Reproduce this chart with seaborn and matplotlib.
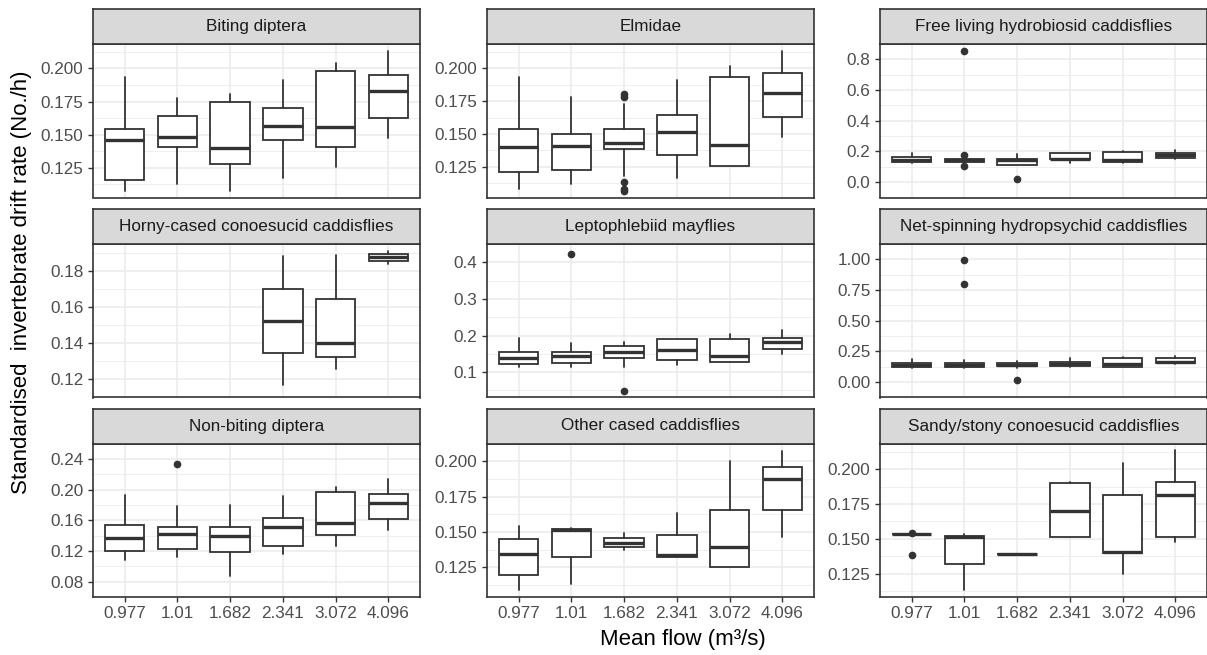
import numpy as np
import pandas as pd
import matplotlib
matplotlib.use("Agg")
import matplotlib.pyplot as plt
import seaborn as sns

# ---------------- data ----------------
FLOWS = ["0.977", "1.01", "1.682", "2.341", "3.072", "4.096"]
TAXA = [
    "Biting diptera",
    "Elmidae",
    "Free living hydrobiosid caddisflies",
    "Horny-cased conoesucid caddisflies",
    "Leptophlebiid mayflies",
    "Net-spinning hydropsychid caddisflies",
    "Non-biting diptera",
    "Other cased caddisflies",
    "Sandy/stony conoesucid caddisflies",
]
N = None
WHISKER_LOW = [
    [0.1078, 0.1129, 0.1078, 0.1172, 0.1256, 0.1477],
    [0.1082, 0.1117, 0.1181, 0.1168, 0.1258, 0.1474],
    [0.122, 0.126, 0.112, 0.128, 0.128, 0.150],
    [N, N, N, 0.1169, 0.1258, 0.1843],
    [0.113, 0.115, 0.113, 0.120, 0.127, 0.150],
    [0.115, 0.115, 0.115, 0.120, 0.122, 0.148],
    [0.1085, 0.112, 0.0874, 0.1163, 0.1261, 0.1473],
    [0.109, 0.1136, 0.1376, 0.1326, 0.125, 0.1467],
    [0.1537, 0.1134, 0.1395, 0.1511, 0.1252, 0.148],
]
Q1 = [
    [0.1159, 0.1405, 0.1276, 0.1461, 0.1405, 0.1629],
    [0.1212, 0.1230, 0.1383, 0.1342, 0.1258, 0.1630],
    [0.134, 0.134, 0.114, 0.148, 0.134, 0.156],
    [N, N, N, 0.1346, 0.1326, 0.1856],
    [0.122, 0.124, 0.139, 0.133, 0.127, 0.163],
    [0.122, 0.122, 0.134, 0.129, 0.122, 0.153],
    [0.1205, 0.123, 0.118, 0.1261, 0.141, 0.1617],
    [0.1195, 0.1321, 0.1393, 0.1326, 0.125, 0.1652],
    [0.1537, 0.132, 0.1395, 0.1511, 0.1402, 0.1511],
]
MEDIAN = [
    [0.1456, 0.1484, 0.1400, 0.1566, 0.1558, 0.1830],
    [0.1398, 0.1406, 0.1429, 0.1515, 0.1413, 0.1811],
    [0.146, 0.142, 0.142, 0.150, 0.142, 0.176],
    [N, N, N, 0.1527, 0.1402, 0.1878],
    [0.140, 0.144, 0.154, 0.160, 0.144, 0.182],
    [0.141, 0.143, 0.143, 0.146, 0.146, 0.162],
    [0.1374, 0.1417, 0.1395, 0.1508, 0.1565, 0.1822],
    [0.1348, 0.1514, 0.1419, 0.1338, 0.1395, 0.1876],
    [0.1537, 0.1516, 0.1395, 0.1702, 0.1407, 0.1814],
]
Q3 = [
    [0.1540, 0.1639, 0.1746, 0.1705, 0.1977, 0.1947],
    [0.1538, 0.1500, 0.1536, 0.1645, 0.1934, 0.1967],
    [0.162, 0.150, 0.148, 0.188, 0.196, 0.188],
    [N, N, N, 0.1704, 0.1645, 0.1898],
    [0.155, 0.154, 0.172, 0.190, 0.190, 0.194],
    [0.153, 0.153, 0.153, 0.162, 0.195, 0.195],
    [0.1533, 0.1512, 0.1512, 0.1625, 0.1963, 0.1942],
    [0.1448, 0.1521, 0.1460, 0.1476, 0.1655, 0.1962],
    [0.1537, 0.1518, 0.1395, 0.1898, 0.1814, 0.1908],
]
WHISKER_HIGH = [
    [0.1936, 0.1776, 0.1807, 0.1911, 0.2038, 0.2132],
    [0.1936, 0.1783, 0.1732, 0.1913, 0.2020, 0.2133],
    [0.188, 0.156, 0.186, 0.190, 0.204, 0.210],
    [N, N, N, 0.1883, 0.1890, 0.1914],
    [0.194, 0.179, 0.181, 0.191, 0.203, 0.214],
    [0.192, 0.178, 0.176, 0.195, 0.204, 0.216],
    [0.1935, 0.178, 0.1804, 0.1914, 0.2037, 0.2136],
    [0.1543, 0.1529, 0.1493, 0.1633, 0.2002, 0.2074],
    [0.1537, 0.1533, 0.1395, 0.1908, 0.2046, 0.2133],
]
OUTLIERS = [
    [[], [], [], [], [], []],
    [[], [], [0.1809, 0.1783, 0.1138, 0.1085, 0.1070], [], [], []],
    [[], [0.852, 0.178, 0.108], [0.022], [], [], []],
    [[], [], [], [], [], []],
    [[], [0.424], [0.0495], [], [], []],
    [[], [0.995, 0.80], [0.019], [], [], []],
    [[], [0.233], [], [], [], []],
    [[], [], [], [], [], []],
    [[0.1543, 0.1383], [], [], [], [], []],
]
Y_TICKS = [
    ["0.125", "0.150", "0.175", "0.200"],
    ["0.125", "0.150", "0.175", "0.200"],
    ["0.0", "0.2", "0.4", "0.6", "0.8"],
    ["0.12", "0.14", "0.16", "0.18"],
    ["0.1", "0.2", "0.3", "0.4"],
    ["0.00", "0.25", "0.50", "0.75", "1.00"],
    ["0.08", "0.12", "0.16", "0.20", "0.24"],
    ["0.125", "0.150", "0.175", "0.200"],
    ["0.125", "0.150", "0.175", "0.200"],
]

# ---------------- long table ----------------
rows = []
for i, t in enumerate(TAXA):
    for j, f in enumerate(FLOWS):
        rows.append(dict(taxon=t, flow=f, pos=j,
                         lo=WHISKER_LOW[i][j], q1=Q1[i][j], med=MEDIAN[i][j],
                         q3=Q3[i][j], hi=WHISKER_HIGH[i][j],
                         fliers=OUTLIERS[i][j]))
df = pd.DataFrame(rows)

# ---------------- style ----------------
sns.set_theme(style="white")
plt.rcParams["font.family"] = ["Liberation Sans", "DejaVu Sans"]

DARK = "#333333"
GRID = "#EBEBEB"


def draw_boxes(data, **kws):
    ax = plt.gca()
    d = data.dropna(subset=["med"])
    stats = [dict(med=r.med, q1=r.q1, q3=r.q3, whislo=r.lo, whishi=r.hi,
                  fliers=r.fliers) for r in d.itertuples()]
    ax.bxp(stats, positions=list(d["pos"]), widths=0.75, patch_artist=True,
           showcaps=False, manage_ticks=False,
           boxprops=dict(facecolor="white", edgecolor=DARK, linewidth=1.3),
           medianprops=dict(color=DARK, linewidth=2.4, solid_capstyle="butt"),
           whiskerprops=dict(color=DARK, linewidth=1.3),
           flierprops=dict(marker="o", markerfacecolor=DARK,
                           markeredgecolor=DARK, markersize=4.5,
                           linestyle="none"))


g = sns.FacetGrid(df, col="taxon", col_order=TAXA, col_wrap=3,
                  sharey=False, sharex=True, despine=False,
                  height=2, aspect=1.6)
g.map_dataframe(draw_boxes)
g.set_titles("")
g.set_axis_labels("", "")

fig = g.figure
fig.set_size_inches(12.07, 6.55)
FW, FH = 1207.0, 655.0

COL_X = [93, 487, 880]
ROW_TOP = [44, 244, 443.5]
PW, PH = 327, 153.5
STRIP_H = 35

for k, ax in enumerate(g.axes.flat):
    r, c = divmod(k, 3)
    x0, top = COL_X[c], ROW_TOP[r]
    ax.set_position([x0 / FW, 1 - (top + PH) / FH, PW / FW, PH / FH])

    # y scale (free), 5% expansion like ggplot
    vals = [v for arr in (WHISKER_LOW, WHISKER_HIGH) for v in arr[k] if v is not None]
    vals += [v for fl in OUTLIERS[k] for v in fl]
    lo, hi = min(vals), max(vals)
    rng = hi - lo
    ax.set_ylim(lo - 0.05 * rng, hi + 0.05 * rng)
    ticks = [float(s) for s in Y_TICKS[k]]
    ax.set_yticks(ticks)
    ax.set_yticklabels(Y_TICKS[k])
    step = ticks[1] - ticks[0]
    minor = [ticks[0] - step / 2] + [t + step / 2 for t in ticks]
    ax.set_yticks(minor, minor=True)

    ax.set_xlim(-0.6, 5.6)
    ax.set_xticks(range(len(FLOWS)))
    if r == 2:
        ax.set_xticklabels(FLOWS)

    ax.set_facecolor("white")
    ax.set_axisbelow(True)
    ax.grid(which="major", color=GRID, linewidth=1.1)
    ax.grid(which="minor", axis="y", color=GRID, linewidth=0.55)
    for s in ax.spines.values():
        s.set_color(DARK)
        s.set_linewidth(1.2)
        s.set_visible(True)
    ax.tick_params(axis="both", which="major", direction="out", length=3.8,
                   width=1.0, color=DARK, labelsize=12.3, labelcolor="#4D4D4D",
                   pad=3, left=True, bottom=(r == 2), labelbottom=(r == 2))
    ax.tick_params(axis="both", which="minor", left=False, bottom=False)

    # strip
    sax = fig.add_axes([x0 / FW, 1 - top / FH, PW / FW, STRIP_H / FH])
    sax.set_facecolor("#D9D9D9")
    sax.set_xticks([])
    sax.set_yticks([])
    for s in sax.spines.values():
        s.set_color(DARK)
        s.set_linewidth(1.2)
    sax.text(0.5, 0.5, TAXA[k], ha="center", va="center", fontsize=12.3,
             color="#1A1A1A", transform=sax.transAxes)

fig.text(22 / FW, 1 - 282 / FH, "Standardised  invertebrate drift rate (No./h)",
         rotation=90, ha="center", va="center", fontsize=16, color="black")
fig.text(683 / FW, 1 - 640 / FH, "Mean flow (m³/s)", ha="center", va="center",
         fontsize=16, color="black")

fig.savefig("out.png", dpi=100)
